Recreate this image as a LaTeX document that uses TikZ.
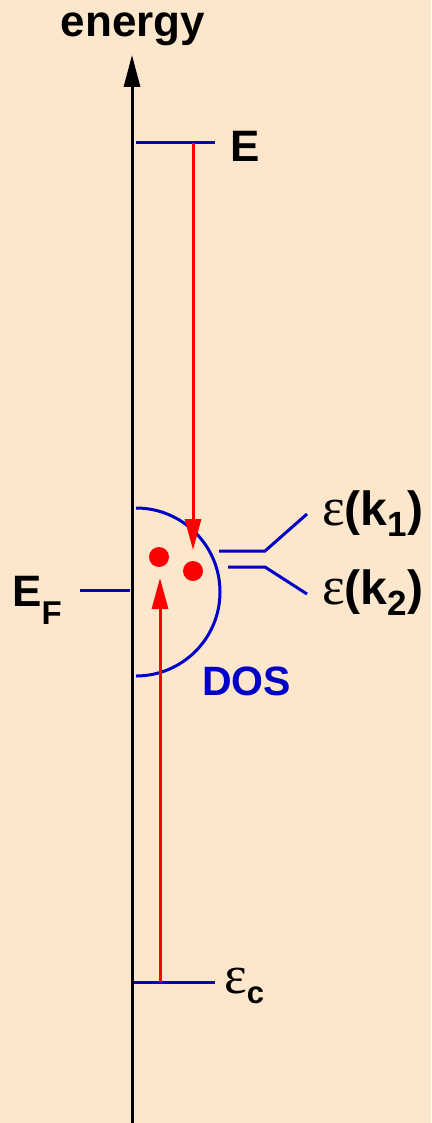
\documentclass[tikz,border=0pt]{standalone}
\usepackage{fontspec}
\setmainfont{Liberation Sans}
\newfontfamily\greekserif{Liberation Serif}
\usetikzlibrary{arrows.meta,positioning}
\definecolor{bgtan}{RGB}{253,231,204}
\definecolor{levelblue}{RGB}{0,0,200}
\definecolor{jumpred}{RGB}{255,0,0}
\newcommand{\bigfont}{\fontsize{44}{48}\selectfont\bfseries}
\newcommand{\epsfont}{\greekserif\fontsize{54}{54}\selectfont\mdseries}
\newcommand{\subfont}[1]{\raisebox{-11pt}{\fontsize{35}{35}\selectfont\bfseries #1}}

\begin{document}
\begin{tikzpicture}[x=1pt, y=-1pt,
    level/.style={levelblue, line width=3pt},
    jump/.style={jumpred, line width=3pt, -{Triangle[length=31pt,width=16pt]}},
    lbl/.style={font=\bigfont, inner sep=0pt}]
  % background and size
  \fill[bgtan] (0,0) rectangle (431,1123);
  \useasboundingbox (0,0) rectangle (431,1123);
  % energy axis
  \coordinate (axbot) at (132,1123);
  \coordinate (axtop) at (132,55);
  \draw[line width=3pt, -{Triangle[length=32pt,width=16pt]}] (axbot) -- (axtop);
  \node[lbl, anchor=base] (energy) at (133,37) {energy};
  % levels
  \draw[level] (136,143) coordinate (Eleft) -- (215,143) coordinate (Eright);
  \node[lbl, anchor=base west] (Elbl) at (230,162) {E};
  \draw[level] (80,590) coordinate (EFleft) -- (130,590) coordinate (EFright);
  \node[lbl, anchor=base west] (EFlbl) at (12,606) {E\raisebox{-18pt}{\fontsize{33}{33}\selectfont\bfseries F}};
  \draw[level] (134,982) coordinate (ecleft) -- (215,982) coordinate (ecright);
  \node[lbl, anchor=base west] (eclbl) at (224,993) {{\epsfont ε}\raisebox{-10pt}{\fontsize{31}{31}\selectfont\bfseries c}};
  % density of states
  \draw[level] (136,508) arc[start angle=-90, end angle=90, radius=84];
  \node[font=\fontsize{41}{44}\selectfont\bfseries, text=levelblue, inner sep=0pt, anchor=base west] (dos) at (202,695) {DOS};
  % the two k states
  \draw[level] (219,551) -- (265,551) -- (307,514) coordinate (kone);
  \draw[level] (228,567) -- (265,567) -- (307,594) coordinate (ktwo);
  \node[lbl, font=\fontsize{48}{52}\selectfont\bfseries, anchor=base west] (konelbl) at (322,525) {{\epsfont ε}(k\subfont{1})};
  \node[lbl, font=\fontsize{48}{52}\selectfont\bfseries, anchor=base west] (ktwolbl) at (322,604) {{\epsfont ε}(k\subfont{2})};
  % electrons
  \fill[jumpred] (159,557) circle (10) coordinate (dotone);
  \fill[jumpred] (193,571) circle (10) coordinate (dottwo);
  % transitions
  \coordinate (Edrop) at (193,143);
  \coordinate (Eland) at (193,550);
  \coordinate (ecrise) at (160,982);
  \coordinate (ecland) at (160,578);
  \draw[jump] (Edrop) -- (Eland);
  \draw[jump] (ecrise) -- (ecland);
\end{tikzpicture}
\end{document}
